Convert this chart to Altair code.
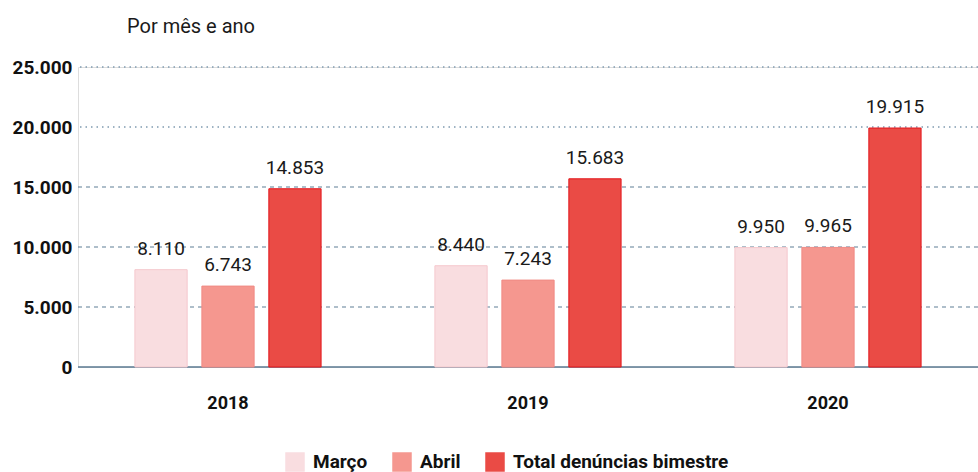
import altair as alt
import pandas as pd

years = ["2018", "2019", "2020"]
series = ["Março", "Abril", "Total denúncias bimestre"]
marco = [8110, 8440, 9950]
abril = [6743, 7243, 9965]
total = [14853, 15683, 19915]
dashed_ticks = [5000, 10000, 15000]
dotted_ticks = [20000, 25000]

rows = []
for i, y in enumerate(years):
    for s, vals in zip(series, [marco, abril, total]):
        v = vals[i]
        rows.append({"ano": y, "serie": s, "valor": v,
                     "rotulo": f"{v:,}".replace(",", ".")})
df = pd.DataFrame(rows)

FONT = "Roboto"
colors = ["#f9dde0", "#f5978f", "#ea4b45"]
strokes = ["#f5c8cd", "#f08a84", "#e3161c"]

yscale = alt.Scale(domain=[0, 25000], nice=False)
xenc = alt.X("ano:N", scale=alt.Scale(paddingInner=0, paddingOuter=0),
             axis=alt.Axis(title=None, domain=False, ticks=False, labelAngle=0,
                           labelFont=FONT, labelFontSize=18, labelFontWeight="bold",
                           labelColor="#111111", labelPadding=27))
xoff = alt.XOffset("serie:N", sort=series,
                   scale=alt.Scale(paddingInner=0.22, paddingOuter=0.85))

grid_dashed = alt.Chart(pd.DataFrame({"v": dashed_ticks})).mark_rule(
    color="#5f7f96", strokeDash=[4, 4], strokeWidth=1.2
).encode(y=alt.Y("v:Q", scale=yscale))
grid_dotted = alt.Chart(pd.DataFrame({"v": dotted_ticks})).mark_rule(
    color="#7f9ab0", strokeDash=[1.5, 4], strokeWidth=1.6
).encode(y=alt.Y("v:Q", scale=yscale))
baseline = alt.Chart(pd.DataFrame({"v": [0]})).mark_rule(
    color="#5a7890", strokeWidth=1.5
).encode(y=alt.Y("v:Q", scale=yscale))

bars = alt.Chart(df).mark_bar(strokeWidth=1).encode(
    x=xenc,
    xOffset=xoff,
    y=alt.Y("valor:Q", scale=yscale,
            axis=alt.Axis(title=None, values=[0, 5000, 10000, 15000, 20000, 25000],
                          labelExpr="replace(format(datum.value, ','), ',', '.')",
                          grid=False, domain=False, ticks=False,
                          labelFont=FONT, labelFontSize=19, labelFontWeight="bold",
                          labelColor="#111111", labelPadding=6)),
    color=alt.Color("serie:N", sort=series,
                    scale=alt.Scale(domain=series, range=colors),
                    legend=alt.Legend(title=None, orient="none", direction="horizontal",
                                      legendX=207, legendY=385,
                                      symbolType="square", symbolSize=380,
                                      symbolStrokeWidth=0, symbolOpacity=1,
                                      labelFont=FONT, labelFontSize=19,
                                      labelFontWeight="bold", labelColor="#111111",
                                      labelLimit=400,
                                      columnPadding=24, labelOffset=8)),
    stroke=alt.Stroke("serie:N", sort=series,
                      scale=alt.Scale(domain=series, range=strokes), legend=None),
)

labels = alt.Chart(df).mark_text(
    baseline="bottom", dy=-11, font=FONT, fontSize=19, color="#1a1a1a"
).encode(x=xenc, xOffset=xoff, y=alt.Y("valor:Q", scale=yscale),
         text="rotulo:N")

subtitle = alt.Chart(pd.DataFrame({"t": ["Por mês e ano"]})).mark_text(
    align="left", baseline="middle", font=FONT, fontSize=20, color="#1a1a1a"
).encode(x=alt.value(49), y=alt.value(-40), text="t:N")

chart = alt.layer(grid_dashed, grid_dotted, baseline, bars, labels, subtitle).properties(
    width=900, height=300,
    padding={"left": 78, "top": 67, "right": 0, "bottom": 105},
    autosize=alt.AutoSizeParams(type="none"),
).configure_view(stroke=None).configure(background="white")

chart.save("out.html", embed_options={"renderer": "svg", "actions": False})
